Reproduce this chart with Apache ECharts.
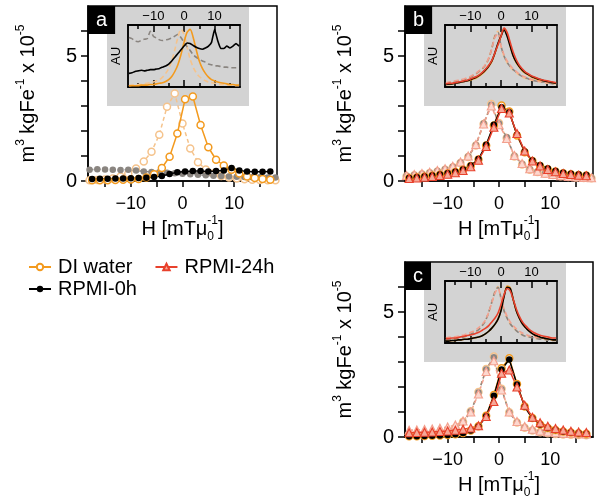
<!DOCTYPE html>
<html><head><meta charset="utf-8">
<script src="https://cdn.jsdelivr.net/npm/echarts@6/dist/echarts.min.js"></script>
<style>html,body{margin:0;padding:0;background:#fff}#c{width:600px;height:502px}</style>
</head><body><div id="c"></div>
<script>
// ---------- data ----------
const hF = [-17.5,-16,-14.5,-13,-11.5,-10,-8.5,-7,-5.5,-4,-2.5,-1,0.5,2,3.5,5,6.5,8,9.5,11,12.5,14,15.5,17];
const hR = [-18,-16.5,-15,-13.5,-12,-10.5,-9,-7.5,-6,-4.5,-3,-1.5,0,1.5,3,4.5,6,7.5,9,10.5,12,13.5,15,16.5,18];
const insetH = [-18,-17,-16,-15,-14,-13,-12,-11,-10,-9,-8,-7,-6,-5,-4,-3,-2,-1,0,1,2,3,4,5,6,7,8,9,10,11,12,13,14,15,16,17,18];
const xTicks = [-15,-10,-5,0,5,10,15];
const xLabels = [-10,0,10];
const yTicks = [0,1,2,3,4,5,6];
const yLabels = [0,5];
const insetMajor = [-10,0,10];
const insetMinor = [-15,-5,5,15];
const panelLetters = ['a','b','c'];
const legendRow1 = ['DI water','RPMI-24h'];
const legendRow2 = ['RPMI-0h'];

// panel a (main)
const aDiFwd = [0.03,0.03,0.03,0.04,0.05,0.06,0.08,0.14,0.27,0.52,0.97,1.9,3.27,3.38,2.24,1.35,0.85,0.62,0.45,0.3,0.18,0.12,0.08,0.05];
const aDiRev = [0.03,0.04,0.06,0.1,0.18,0.3,0.5,0.78,1.17,1.85,2.97,3.5,2.3,1.3,0.75,0.46,0.3,0.2,0.14,0.1,0.07,0.05,0.04,0.03,0.03];
const aR0Fwd = [0.08,0.09,0.09,0.1,0.1,0.11,0.12,0.13,0.16,0.2,0.28,0.35,0.38,0.4,0.4,0.38,0.4,0.42,0.52,0.42,0.38,0.37,0.37,0.38];
const aR0Rev = [0.45,0.47,0.46,0.45,0.44,0.45,0.42,0.38,0.36,0.35,0.33,0.31,0.29,0.27,0.25,0.23,0.21,0.2,0.18,0.17,0.16,0.15,0.15,0.14,0.14];
// panel b (main)
const bDiFwd = [0.11,0.14,0.17,0.21,0.25,0.3,0.36,0.45,0.6,0.86,1.42,2.22,3.02,2.78,1.82,1.15,0.8,0.6,0.47,0.38,0.31,0.27,0.24,0.22];
const bR0Fwd = [0.12,0.15,0.18,0.22,0.26,0.31,0.37,0.46,0.62,0.88,1.45,2.25,2.95,2.75,1.85,1.18,0.82,0.63,0.5,0.4,0.33,0.29,0.26,0.24];
const bR24Fwd = [0.1,0.12,0.15,0.18,0.22,0.27,0.33,0.42,0.57,0.83,1.38,2.15,2.9,2.72,1.9,1.2,0.8,0.6,0.46,0.37,0.3,0.26,0.23,0.21];
const bDiRev = [0.19,0.23,0.27,0.32,0.38,0.45,0.55,0.72,0.96,1.42,2.28,3.08,2.32,1.72,0.98,0.66,0.45,0.36,0.29,0.24,0.19,0.16,0.14,0.12,0.11];
const bR0Rev = [0.2,0.24,0.28,0.33,0.4,0.47,0.57,0.74,0.98,1.44,2.3,3.05,2.3,1.75,1.0,0.68,0.47,0.38,0.3,0.25,0.2,0.17,0.15,0.13,0.12];
const bR24Rev = [0.22,0.26,0.3,0.35,0.42,0.49,0.59,0.76,1.0,1.46,2.28,3.0,2.25,1.7,1.02,0.7,0.49,0.39,0.31,0.26,0.21,0.18,0.16,0.14,0.13];
// panel c (main) — both sweeps sampled on hF
const cDiFwd = [0.03,0.03,0.04,0.05,0.06,0.08,0.11,0.16,0.26,0.43,0.85,1.68,2.75,3.15,2.12,1.22,0.76,0.5,0.36,0.28,0.22,0.18,0.15,0.13];
const cR0Fwd = [0.03,0.03,0.04,0.05,0.06,0.08,0.11,0.16,0.26,0.42,0.83,1.65,2.7,3.1,2.1,1.21,0.75,0.5,0.36,0.28,0.22,0.18,0.15,0.13];
const cR24Fwd = [0.17,0.18,0.19,0.2,0.22,0.24,0.27,0.31,0.36,0.45,0.82,1.42,2.55,2.68,2.0,1.27,0.79,0.57,0.43,0.34,0.28,0.23,0.2,0.18];
const cDiRev = [0.1,0.11,0.13,0.15,0.19,0.25,0.37,0.61,1.03,1.8,2.72,3.22,1.93,0.99,0.58,0.37,0.26,0.19,0.15,0.12,0.1,0.09,0.08,0.07];
const cR0Rev = [0.1,0.11,0.13,0.15,0.19,0.25,0.36,0.6,1.02,1.78,2.7,3.19,1.91,0.98,0.58,0.37,0.26,0.19,0.15,0.12,0.1,0.09,0.08,0.07];
const cR24Rev = [0.27,0.28,0.3,0.32,0.35,0.4,0.48,0.64,1.0,1.72,2.62,3.05,1.88,1.0,0.62,0.42,0.31,0.24,0.2,0.17,0.15,0.14,0.13,0.12];

// insets (AU, sampled on insetH)
const iaDiFwd = [0.02,0.02,0.02,0.02,0.03,0.03,0.03,0.04,0.04,0.05,0.06,0.07,0.09,0.12,0.17,0.25,0.36,0.52,0.72,0.88,0.93,0.8,0.6,0.42,0.3,0.22,0.16,0.12,0.1,0.08,0.07,0.06,0.05,0.04,0.04,0.03,0.03];
const iaDiRev = [0.02,0.03,0.03,0.04,0.04,0.05,0.06,0.07,0.08,0.1,0.12,0.16,0.22,0.3,0.42,0.6,0.8,0.93,0.85,0.65,0.45,0.32,0.23,0.17,0.13,0.1,0.08,0.07,0.06,0.05,0.04,0.04,0.03,0.03,0.03,0.02,0.02];
const iaR0Fwd = [0.22,0.23,0.25,0.26,0.27,0.26,0.27,0.28,0.28,0.29,0.3,0.32,0.34,0.37,0.42,0.48,0.54,0.6,0.66,0.71,0.7,0.67,0.64,0.62,0.61,0.63,0.66,0.72,0.93,0.75,0.62,0.62,0.66,0.63,0.66,0.7,0.66];
const iaR0Rev = [0.8,0.78,0.74,0.73,0.75,0.77,0.78,0.9,0.82,0.79,0.76,0.75,0.76,0.77,0.79,0.82,0.85,0.8,0.72,0.65,0.59,0.52,0.48,0.45,0.42,0.4,0.37,0.36,0.34,0.34,0.33,0.32,0.32,0.31,0.31,0.31,0.31];
const ibDiFwd = [0.04,0.04,0.05,0.06,0.07,0.08,0.09,0.1,0.11,0.13,0.15,0.18,0.22,0.27,0.33,0.41,0.54,0.69,0.82,0.93,0.83,0.66,0.5,0.39,0.32,0.26,0.22,0.19,0.16,0.14,0.12,0.11,0.1,0.09,0.08,0.07,0.06];
const ibR0Fwd = [0.04,0.05,0.05,0.06,0.07,0.08,0.09,0.1,0.12,0.14,0.16,0.19,0.23,0.28,0.34,0.42,0.55,0.7,0.82,0.92,0.82,0.66,0.5,0.4,0.33,0.27,0.23,0.2,0.17,0.15,0.13,0.12,0.1,0.09,0.08,0.07,0.06];
const ibR24Fwd = [0.05,0.06,0.06,0.07,0.08,0.09,0.1,0.11,0.13,0.15,0.17,0.2,0.24,0.29,0.35,0.43,0.55,0.68,0.82,0.95,0.88,0.72,0.56,0.44,0.35,0.29,0.24,0.21,0.18,0.16,0.14,0.12,0.11,0.1,0.09,0.08,0.07];
const ibDiRev = [0.05,0.06,0.07,0.08,0.09,0.1,0.12,0.13,0.15,0.18,0.21,0.25,0.3,0.36,0.46,0.63,0.84,0.9,0.66,0.49,0.39,0.32,0.27,0.23,0.19,0.16,0.14,0.12,0.11,0.1,0.09,0.08,0.07,0.06,0.06,0.05,0.05];
const ibR0Rev = [0.06,0.07,0.08,0.09,0.1,0.11,0.12,0.14,0.16,0.19,0.22,0.26,0.3,0.36,0.46,0.62,0.82,0.88,0.66,0.5,0.4,0.33,0.28,0.24,0.2,0.17,0.15,0.13,0.12,0.1,0.09,0.08,0.08,0.07,0.06,0.05,0.05];
const ibR24Rev = [0.07,0.08,0.09,0.1,0.11,0.12,0.13,0.15,0.17,0.2,0.23,0.27,0.31,0.37,0.47,0.62,0.8,0.86,0.66,0.52,0.42,0.35,0.29,0.25,0.21,0.18,0.16,0.14,0.12,0.11,0.1,0.09,0.08,0.07,0.07,0.06,0.06];
const icDiFwd = [0.03,0.03,0.04,0.04,0.05,0.05,0.06,0.06,0.07,0.08,0.09,0.1,0.12,0.15,0.19,0.24,0.3,0.38,0.53,0.76,0.92,0.89,0.7,0.52,0.4,0.31,0.25,0.2,0.16,0.13,0.11,0.09,0.08,0.07,0.06,0.05,0.05];
const icR0Fwd = [0.03,0.03,0.04,0.04,0.05,0.05,0.06,0.06,0.07,0.08,0.09,0.1,0.12,0.15,0.19,0.24,0.3,0.38,0.52,0.75,0.9,0.88,0.7,0.52,0.4,0.31,0.25,0.2,0.16,0.13,0.11,0.09,0.08,0.07,0.06,0.05,0.05];
const icR24Fwd = [0.07,0.07,0.08,0.08,0.09,0.1,0.11,0.12,0.13,0.14,0.16,0.18,0.21,0.24,0.28,0.34,0.4,0.48,0.62,0.78,0.88,0.84,0.7,0.55,0.43,0.34,0.28,0.23,0.19,0.16,0.14,0.12,0.11,0.1,0.09,0.08,0.08];
const icDiRev = [0.05,0.06,0.06,0.07,0.08,0.09,0.1,0.12,0.14,0.16,0.19,0.23,0.29,0.37,0.5,0.66,0.83,0.91,0.72,0.52,0.4,0.31,0.25,0.2,0.16,0.13,0.11,0.1,0.09,0.08,0.07,0.06,0.06,0.05,0.05,0.04,0.04];
const icR0Rev = [0.05,0.06,0.06,0.07,0.08,0.09,0.1,0.12,0.14,0.16,0.19,0.23,0.29,0.37,0.5,0.66,0.82,0.9,0.72,0.52,0.4,0.31,0.25,0.2,0.16,0.13,0.11,0.1,0.09,0.08,0.07,0.06,0.06,0.05,0.05,0.04,0.04];
const icR24Rev = [0.08,0.09,0.09,0.1,0.11,0.12,0.13,0.15,0.17,0.19,0.22,0.26,0.31,0.38,0.5,0.65,0.8,0.88,0.72,0.55,0.43,0.34,0.28,0.23,0.19,0.16,0.14,0.12,0.11,0.1,0.09,0.08,0.08,0.07,0.07,0.06,0.06];

// ---------- styling / layout ----------
const FONT = 'Liberation Sans, Arial, Helvetica, sans-serif';
const COL = {di:'#f39a1e', diL:'#f5c38c', r0:'#000000', r0L:'#8a8580', r24:'#e8412c', r24L:'#f3a08e'};
const GRAY = '#d3d3d3';
const mainGrids = [
  {left:88, top:6, width:189, height:175},
  {left:405, top:6, width:188, height:175},
  {left:405, top:262, width:188, height:175}
];
const insetDx = 40, insetDy = 19, insetW = 112, insetH2 = 62;
const boxDx = 19, boxW = 142, boxH = 99;
const XMIN = -18.3, XMAX = 18.3;

const minus = v => String(v).replace('-', '\u2212');
const pairs = (h, v) => h.map((x, i) => [x, v[i]]);

const grid = [], xAxis = [], yAxis = [], series = [], graphic = [], title = [];

const yNameRich = {
  n:{fontSize:20, lineHeight:26, fontFamily:FONT, color:'#000', align:'left'},
  p:{fontSize:12, lineHeight:12, fontFamily:FONT, color:'#000', verticalAlign:'top', align:'left'}
};
const xNameRich = {
  n:{fontSize:20, lineHeight:28, fontFamily:FONT, color:'#000', align:'left'},
  p:{fontSize:12, lineHeight:12, fontFamily:FONT, color:'#000', verticalAlign:'top', align:'left'},
  b:{fontSize:12, lineHeight:10, fontFamily:FONT, color:'#000', verticalAlign:'bottom', align:'left', width:0}
};

mainGrids.forEach((g, i) => {
  grid.push({left:g.left, top:g.top, width:g.width, height:g.height, show:true, borderColor:'#000', borderWidth:1.5, backgroundColor:'transparent'});
  xAxis.push({
    gridIndex:i, type:'value', min:XMIN, max:XMAX, position:'bottom',
    axisLine:{show:true, onZero:false, lineStyle:{color:'#000', width:1.5}},
    axisTick:{show:true, customValues:xTicks, length:6, lineStyle:{color:'#000', width:1.5}},
    axisLabel:{customValues:xLabels, fontSize:18, color:'#000', fontFamily:FONT, margin:14, formatter:minus},
    splitLine:{show:false},
    name:'{n|H [mTμ}{b|0}{p|-1}{n|]}', nameLocation:'middle', nameGap:34,
    nameTextStyle:{rich:xNameRich}
  });
  yAxis.push({
    gridIndex:i, type:'value', min:0, max:7, position:'left',
    axisLine:{show:true, onZero:false, lineStyle:{color:'#000', width:1.5}},
    axisTick:{show:true, customValues:yTicks, length:7, lineStyle:{color:'#000', width:1.5}},
    axisLabel:{customValues:yLabels, fontSize:20, color:'#000', fontFamily:FONT, margin:11},
    splitLine:{show:false},
    name:'{n|m}{p|3}{n| kgFe}{p|-1}{n| x 10}{p|-5}', nameLocation:'middle', nameRotate:90, nameGap:47,
    nameTextStyle:{rich:yNameRich}
  });
  graphic.push({type:'rect', z:-1, shape:{x:g.left + boxDx, y:g.top + 1, width:boxW, height:boxH}, style:{fill:GRAY}});
  title.push({text:panelLetters[i], left:g.left, top:g.top, backgroundColor:'#000', padding:[4,8,4,8],
    textStyle:{color:'#fff', fontSize:20, fontWeight:'normal', fontFamily:FONT, lineHeight:20}});
});

mainGrids.forEach((g, i) => {
  const gi = 3 + i;
  grid.push({left:g.left + insetDx, top:g.top + insetDy, width:insetW, height:insetH2, show:true, borderColor:'#000', borderWidth:1.5, backgroundColor:'transparent'});
  const base = {gridIndex:gi, type:'value', min:XMIN, max:XMAX, splitLine:{show:false},
    axisLine:{show:true, onZero:false, lineStyle:{color:'#000', width:1.5}}};
  xAxis.push(Object.assign({}, base, {position:'top',
    axisTick:{show:true, inside:true, customValues:insetMajor, length:7, lineStyle:{color:'#000', width:1.5}},
    axisLabel:{customValues:insetMajor, fontSize:13, color:'#000', fontFamily:FONT, margin:2, formatter:minus}}));
  xAxis.push(Object.assign({}, base, {position:'top',
    axisTick:{show:true, inside:true, customValues:insetMinor, length:4, lineStyle:{color:'#000', width:1.5}},
    axisLabel:{show:false}}));
  xAxis.push(Object.assign({}, base, {position:'bottom',
    axisTick:{show:true, inside:true, customValues:insetMajor, length:7, lineStyle:{color:'#000', width:1.5}},
    axisLabel:{show:false}}));
  xAxis.push(Object.assign({}, base, {position:'bottom',
    axisTick:{show:true, inside:true, customValues:insetMinor, length:4, lineStyle:{color:'#000', width:1.5}},
    axisLabel:{show:false}}));
  yAxis.push({gridIndex:gi, type:'value', min:0, max:1, position:'left',
    axisLine:{show:true, onZero:false, lineStyle:{color:'#000', width:1.5}}, axisTick:{show:false}, axisLabel:{show:false}, splitLine:{show:false},
    name:'AU', nameLocation:'middle', nameRotate:90, nameGap:5,
    nameTextStyle:{fontSize:13, color:'#000', fontFamily:FONT}});
});

const symFor = {
  di: (c) => ({symbol:'circle', symbolSize:7, itemStyle:{color:'#fff', borderColor:c, borderWidth:1.5}}),
  r0: (c) => ({symbol:'circle', symbolSize:6.5, itemStyle:{color:c, borderColor:c, borderWidth:0}}),
  r24:(c, f) => ({symbol:'triangle', symbolSize:8, itemStyle:{color:f, borderColor:c, borderWidth:1.2}})
};
function mainS(name, panel, h, v, kind, rev) {
  const c = rev ? COL[kind + 'L'] : COL[kind];
  let sym;
  if (kind === 'r24') sym = symFor.r24(c, rev ? '#fcd8cf' : '#f6a898');
  else sym = symFor[kind](c);
  return Object.assign({
    type:'line', name:name, xAxisIndex:panel, yAxisIndex:panel, data:pairs(h, v),
    lineStyle:{color:c, width:1.5, type: rev ? [4,3] : 'solid'},
    showSymbol:true, animation:false, z: rev ? 2 : 3,
    emphasis:{disabled:true}
  }, sym);
}
function insetS(name, panel, v, kind, rev, smooth) {
  const c = rev ? COL[kind + 'L'] : COL[kind];
  return {type:'line', name:name, xAxisIndex:3 + panel*4, yAxisIndex:3 + panel, data:pairs(insetH, v),
    showSymbol:false, symbol:'none', smooth:smooth, animation:false, z: rev ? 3 : 4,
    lineStyle:{color:c, width:1.6, type: rev ? [5,3] : 'solid'}, emphasis:{disabled:true}};
}

// panel a
series.push(mainS('DI water rev', 0, hR, aDiRev, 'di', true));
series.push(mainS('RPMI-0h rev', 0, hR, aR0Rev, 'r0', true));
series.push(mainS('DI water', 0, hF, aDiFwd, 'di', false));
series.push(mainS('RPMI-0h', 0, hF, aR0Fwd, 'r0', false));
// panel b
series.push(mainS('DI water rev', 1, hR, bDiRev, 'di', true));
series.push(mainS('RPMI-0h rev', 1, hR, bR0Rev, 'r0', true));
series.push(mainS('RPMI-24h rev', 1, hR, bR24Rev, 'r24', true));
series.push(mainS('DI water', 1, hF, bDiFwd, 'di', false));
series.push(mainS('RPMI-0h', 1, hF, bR0Fwd, 'r0', false));
series.push(mainS('RPMI-24h', 1, hF, bR24Fwd, 'r24', false));
// panel c
series.push(mainS('DI water rev', 2, hF, cDiRev, 'di', true));
series.push(mainS('RPMI-0h rev', 2, hF, cR0Rev, 'r0', true));
series.push(mainS('RPMI-24h rev', 2, hF, cR24Rev, 'r24', true));
series.push(mainS('DI water', 2, hF, cDiFwd, 'di', false));
series.push(mainS('RPMI-0h', 2, hF, cR0Fwd, 'r0', false));
series.push(mainS('RPMI-24h', 2, hF, cR24Fwd, 'r24', false));
// insets
series.push(insetS('ia di rev', 0, iaDiRev, 'di', true, 0.3));
series.push(insetS('ia r0 rev', 0, iaR0Rev, 'r0', true, 0.2));
series.push(insetS('ia di', 0, iaDiFwd, 'di', false, 0.3));
series.push(insetS('ia r0', 0, iaR0Fwd, 'r0', false, 0.1));
series.push(insetS('ib di rev', 1, ibDiRev, 'di', true, 0.3));
series.push(insetS('ib r0 rev', 1, ibR0Rev, 'r0', true, 0.3));
series.push(insetS('ib r24 rev', 1, ibR24Rev, 'r24', true, 0.3));
series.push(insetS('ib di', 1, ibDiFwd, 'di', false, 0.3));
series.push(insetS('ib r0', 1, ibR0Fwd, 'r0', false, 0.3));
series.push(insetS('ib r24', 1, ibR24Fwd, 'r24', false, 0.3));
series.push(insetS('ic di rev', 2, icDiRev, 'di', true, 0.3));
series.push(insetS('ic r0 rev', 2, icR0Rev, 'r0', true, 0.3));
series.push(insetS('ic r24 rev', 2, icR24Rev, 'r24', true, 0.3));
series.push(insetS('ic di', 2, icDiFwd, 'di', false, 0.3));
series.push(insetS('ic r0', 2, icR0Fwd, 'r0', false, 0.3));
series.push(insetS('ic r24', 2, icR24Fwd, 'r24', false, 0.3));

const legendBase = {orient:'horizontal', itemWidth:22, itemHeight:8, itemGap:22, selectedMode:false,
  textStyle:{fontSize:20, color:'#000', fontFamily:FONT, padding:[0,0,0,2]}};

const chart = echarts.init(document.getElementById('c'), null, {renderer:'canvas'});
chart.setOption({
  animation:false,
  backgroundColor:'#fff',
  textStyle:{fontFamily:FONT},
  title:title,
  grid:grid, xAxis:xAxis, yAxis:yAxis,
  graphic:{elements:graphic},
  legend:[
    Object.assign({}, legendBase, {data:legendRow1, left:23, top:252}),
    Object.assign({}, legendBase, {data:legendRow2, left:23, top:274})
  ],
  series:series
});
</script></body></html>
